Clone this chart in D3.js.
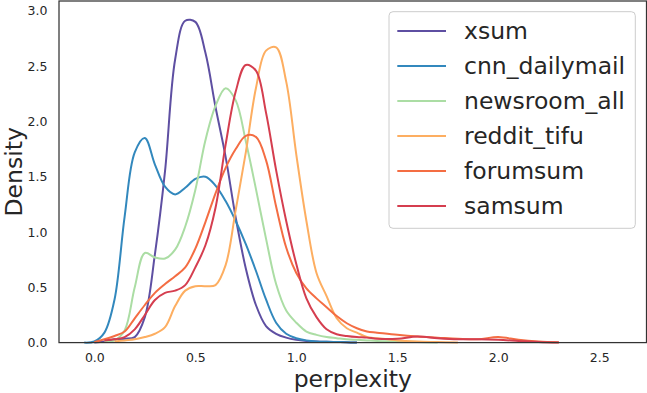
<!DOCTYPE html>
<html>
<head>
<meta charset="utf-8">
<script src="https://cdn.jsdelivr.net/npm/d3@7"></script>
<style>
  body { margin: 0; background: #fff; }
  svg { display: block; font-family: "DejaVu Sans", sans-serif; }
</style>
</head>
<body>
<div id="graph"></div>
<script>
// kde curves, one density value per x in xs
var xs = [-0.05, 0, 0.05, 0.1, 0.15, 0.2, 0.25, 0.3, 0.35, 0.4, 0.45, 0.5, 0.55, 0.6, 0.65, 0.7, 0.75, 0.8, 0.85, 0.9,
          0.95, 1.0, 1.05, 1.1, 1.15, 1.2, 1.25, 1.3, 1.35, 1.4, 1.5, 1.6, 1.7, 1.8, 1.9, 2.0, 2.1, 2.2, 2.3, 2.4];

var xsum = [null, 0.0, 0.01, 0.03, 0.035, 0.05, 0.23, 0.80, 1.55, 2.56, 2.91, 2.90, 2.62, 2.13, 1.68, 1.13, 0.67, 0.34, 0.15, 0.08,
            0.045, 0.025, 0.015, 0.01, 0.007, 0.005, 0.003, 0.0, null, null, null, null, null, null, null, null, null, null, null, null];
var cnnDailymail = [0.0, 0.01, 0.09, 0.39, 1.14, 1.72, 1.85, 1.61, 1.41, 1.34, 1.40, 1.48, 1.50, 1.42, 1.28, 1.10, 0.89, 0.65, 0.39, 0.18,
                    0.08, 0.04, 0.02, 0.01, 0.007, 0.005, 0.003, 0.0, null, null, null, null, null, null, null, null, null, null, null, null];
var newsroomAll = [null, null, 0.005, 0.02, 0.11, 0.50, 0.81, 0.77, 0.76, 0.84, 1.05, 1.38, 1.83, 2.14, 2.30, 2.19, 1.82, 1.39, 0.94, 0.53,
                   0.29, 0.18, 0.10, 0.07, 0.05, 0.04, 0.03, 0.025, 0.02, 0.015, 0.01, 0.005, 0.0, null, null, null, null, null, null, null];
var redditTifu = [null, null, null, 0.01, 0.02, 0.03, 0.05, 0.08, 0.14, 0.33, 0.47, 0.51, 0.51, 0.52, 0.70, 1.20, 1.72, 2.30, 2.64, 2.67,
                  2.36, 1.70, 1.10, 0.63, 0.42, 0.22, 0.13, 0.09, 0.05, 0.04, 0.02, 0.01, 0.005, 0.0, null, null, null, null, null, null];
var forumsum = [null, 0.005, 0.03, 0.06, 0.10, 0.22, 0.34, 0.45, 0.53, 0.60, 0.68, 0.85, 1.09, 1.35, 1.58, 1.75, 1.87, 1.86, 1.65, 1.23,
                0.86, 0.63, 0.49, 0.40, 0.32, 0.24, 0.175, 0.13, 0.10, 0.09, 0.07, 0.055, 0.045, 0.035, 0.03, 0.05, 0.025, 0.01, 0.003, null];
var samsum = [null, null, 0.02, 0.03, 0.05, 0.12, 0.25, 0.385, 0.45, 0.47, 0.52, 0.68, 0.88, 1.22, 1.79, 2.27, 2.51, 2.46, 2.08, 1.56,
              1.10, 0.71, 0.40, 0.23, 0.12, 0.075, 0.06, 0.05, 0.045, 0.035, 0.035, 0.055, 0.04, 0.03, 0.03, 0.025, 0.015, 0.005, 0.0, null];

var seriesNames = ["xsum", "cnn_dailymail", "newsroom_all", "reddit_tifu", "forumsum", "samsum"];
var seriesValues = [xsum, cnnDailymail, newsroomAll, redditTifu, forumsum, samsum];
var colors = ["#5e4fa2", "#3288bd", "#abdda4", "#fdae61", "#f46d43", "#d53e4f"];

var xTicks = [0, 0.5, 1.0, 1.5, 2.0, 2.5];
var yTicks = [0, 0.5, 1.0, 1.5, 2.0, 2.5, 3.0];

var width = 647;
var height = 393;
// plot box in pixels (note: "top" is reserved on window)
var plotLeft = 59, plotRight = 646.5, plotTop = 1, plotBottom = 342.6;
var textColor = "#262626";

var svg = d3.select("#graph").
  append("svg").
  attr("width", width).
  attr("height", height);

var xScale = d3.scaleLinear().
  domain([-0.175, 2.734]).
  range([plotLeft, plotRight]);

var yScale = d3.scaleLinear().
  domain([0, 3.089]).
  range([plotBottom, plotTop]);

var line = d3.line().
  defined(function (d) { return d[1] !== null; }).
  x(function (d) { return xScale(d[0]); }).
  y(function (d) { return yScale(d[1]); }).
  curve(d3.curveCatmullRom.alpha(0.5));

var series = seriesNames.map(function (name, i) {
  return {
    name: name,
    color: colors[i],
    points: xs.map(function (x, j) { return [x, seriesValues[i][j]]; })
  };
});

svg.append("g").
  selectAll("path").
  data(series).
  enter().
  append("path").
  attr("d", function (s) { return line(s.points); }).
  attr("fill", "none").
  attr("stroke", function (s) { return s.color; }).
  attr("stroke-width", 2).
  attr("stroke-linejoin", "round");

// axes, no tick marks (seaborn white)
var xAxis = d3.axisBottom(xScale).tickValues(xTicks).tickFormat(d3.format(".1f")).tickSize(0).tickPadding(11);
var yAxis = d3.axisLeft(yScale).tickValues(yTicks).tickFormat(d3.format(".1f")).tickSize(0).tickPadding(11.5);

var gx = svg.append("g").
  attr("transform", "translate(0," + plotBottom + ")").
  call(xAxis);
var gy = svg.append("g").
  attr("transform", "translate(" + plotLeft + ",0)").
  call(yAxis);

[gx, gy].forEach(function (g) {
  g.select(".domain").remove();
  g.selectAll("text").
    style("font-family", "DejaVu Sans").
    style("font-size", "12.5px").
    attr("fill", textColor);
});

// frame
svg.append("rect").
  attr("x", plotLeft).
  attr("y", plotTop).
  attr("width", plotRight - plotLeft).
  attr("height", plotBottom - plotTop).
  attr("fill", "none").
  attr("stroke", "#333").
  attr("stroke-width", 1.25);

svg.append("text").
  attr("x", (plotLeft + plotRight) / 2).
  attr("y", 387).
  attr("text-anchor", "middle").
  style("font-size", "23.5px").
  attr("fill", textColor).
  text("perplexity");

svg.append("text").
  attr("transform", "translate(21.5," + ((plotTop + plotBottom) / 2) + ") rotate(-90)").
  attr("text-anchor", "middle").
  style("font-size", "23.5px").
  attr("fill", textColor).
  text("Density");

// legend
var legend = svg.append("g");
legend.append("rect").
  attr("x", 389).
  attr("y", 11.7).
  attr("width", 246.3).
  attr("height", 216.6).
  attr("rx", 4).
  attr("fill", "#fff").
  attr("fill-opacity", 0.8).
  attr("stroke", "#cccccc").
  attr("stroke-width", 1);

var rows = legend.selectAll("g.row").
  data(series).
  enter().
  append("g").
  attr("class", "row").
  attr("transform", function (s, i) { return "translate(0," + (31 + i * 35) + ")"; });

rows.append("line").
  attr("x1", 397.3).
  attr("x2", 446).
  attr("stroke", function (s) { return s.color; }).
  attr("stroke-width", 2);

rows.append("text").
  attr("x", 464).
  attr("y", 8).
  style("font-size", "23.5px").
  attr("fill", textColor).
  text(function (s) { return s.name; });
</script>
</body>
</html>
